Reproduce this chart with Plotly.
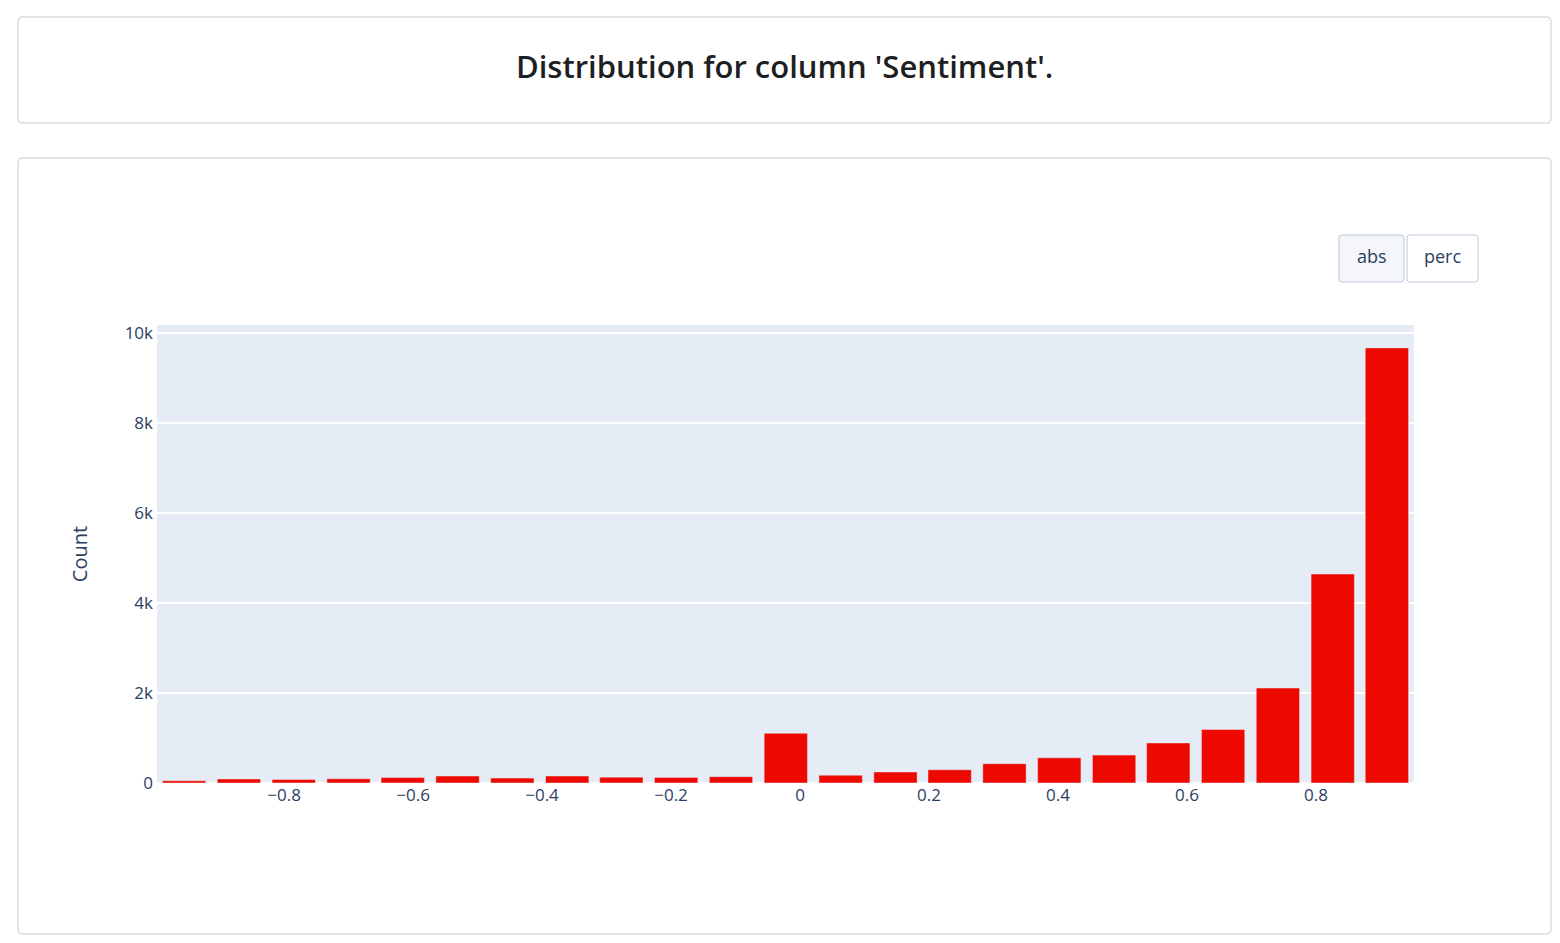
import plotly.graph_objects as go

# ---- data ----
bin_centers = [-0.955, -0.870, -0.785, -0.700, -0.616, -0.531, -0.446, -0.361,
               -0.277, -0.192, -0.107, -0.022, 0.063, 0.148, 0.232, 0.317,
               0.402, 0.487, 0.571, 0.656, 0.741, 0.826, 0.910]
counts = [50, 90, 80, 95, 120, 155, 110, 155, 130, 125, 140, 1105, 175, 245,
          295, 430, 560, 620, 890, 1190, 2110, 4645, 9670]
title_text = "Distribution for column 'Sentiment'."
y_title = "Count"
button_labels = ["abs", "perc"]

# ---- page geometry (pixels) ----
W, H = 1560, 943
L, R, T, B = 157, 1414, 325, 783
PW, PH = R - L, B - T


def px(x):
    return (x - L) / PW


def py(y):
    return (B - y) / PH


def rounded_rect(x0, y0, x1, y1, r):
    # path in paper coords from pixel coords
    pts = []
    pts.append(f"M {px(x0 + r)},{py(y0)}")
    pts.append(f"L {px(x1 - r)},{py(y0)}")
    pts.append(f"Q {px(x1)},{py(y0)} {px(x1)},{py(y0 + r)}")
    pts.append(f"L {px(x1)},{py(y1 - r)}")
    pts.append(f"Q {px(x1)},{py(y1)} {px(x1 - r)},{py(y1)}")
    pts.append(f"L {px(x0 + r)},{py(y1)}")
    pts.append(f"Q {px(x0)},{py(y1)} {px(x0)},{py(y1 - r)}")
    pts.append(f"L {px(x0)},{py(y0 + r)}")
    pts.append(f"Q {px(x0)},{py(y0)} {px(x0 + r)},{py(y0)}")
    pts.append("Z")
    return " ".join(pts)


fig = go.Figure(
    go.Bar(
        x=bin_centers,
        y=counts,
        marker=dict(color="rgb(237,8,0)", line=dict(color="#E5ECF6", width=0.5)),
    )
)

shapes = [
    dict(type="path", xref="paper", yref="paper", layer="below",
         path=rounded_rect(18, 17, 1551, 123, 5),
         line=dict(color="#dcdcdc", width=1.5), fillcolor="rgba(0,0,0,0)"),
    dict(type="path", xref="paper", yref="paper", layer="below",
         path=rounded_rect(18, 158, 1551, 934, 5),
         line=dict(color="#dcdcdc", width=1.5), fillcolor="rgba(0,0,0,0)"),
    dict(type="path", xref="paper", yref="paper", layer="above",
         path=rounded_rect(1339, 235, 1404, 282, 3),
         line=dict(color="#BEC8D9", width=1), fillcolor="#F4F6FA"),
    dict(type="path", xref="paper", yref="paper", layer="above",
         path=rounded_rect(1407, 235, 1478, 282, 3),
         line=dict(color="#BEC8D9", width=1), fillcolor="#FFFFFF"),
]

annotations = [
    dict(text=title_text, xref="paper", yref="paper", x=px(784), y=py(66),
         xanchor="center", yanchor="middle", showarrow=False,
         font=dict(family="Open Sans, sans-serif", size=31,
                   color="#1d1f22", weight=600)),
    dict(text=button_labels[0], xref="paper", yref="paper",
         x=px((1339 + 1404) / 2), y=py(256.5), xanchor="center", yanchor="middle",
         showarrow=False, font=dict(family="Open Sans", size=18, color="#2a3f5f")),
    dict(text=button_labels[1], xref="paper", yref="paper",
         x=px((1407 + 1478) / 2), y=py(256.5), xanchor="center", yanchor="middle",
         showarrow=False, font=dict(family="Open Sans", size=18, color="#2a3f5f")),
]

fig.update_layout(
    width=W, height=H,
    margin=dict(l=L, r=W - R, t=T, b=H - B, pad=0),
    paper_bgcolor="white",
    plot_bgcolor="#E5ECF6",
    font=dict(family="Open Sans, sans-serif", size=17, color="#2a3f5f"),
    bargap=0.2,
    showlegend=False,
    shapes=shapes,
    annotations=annotations,
    xaxis=dict(showgrid=False, zeroline=False, ticks="", tickfont=dict(size=17)),
    yaxis=dict(title=dict(text=y_title, font=dict(size=20), standoff=31),
               gridcolor="white", gridwidth=1.5, zeroline=True,
               zerolinecolor="white", zerolinewidth=2,
               ticklabelstandoff=3,
               tickfont=dict(size=17)),
)

fig.write_html(
    "out.html",
    config={"displayModeBar": False},
    post_script="document.body.style.margin='0';document.body.style.overflow='hidden';",
)
